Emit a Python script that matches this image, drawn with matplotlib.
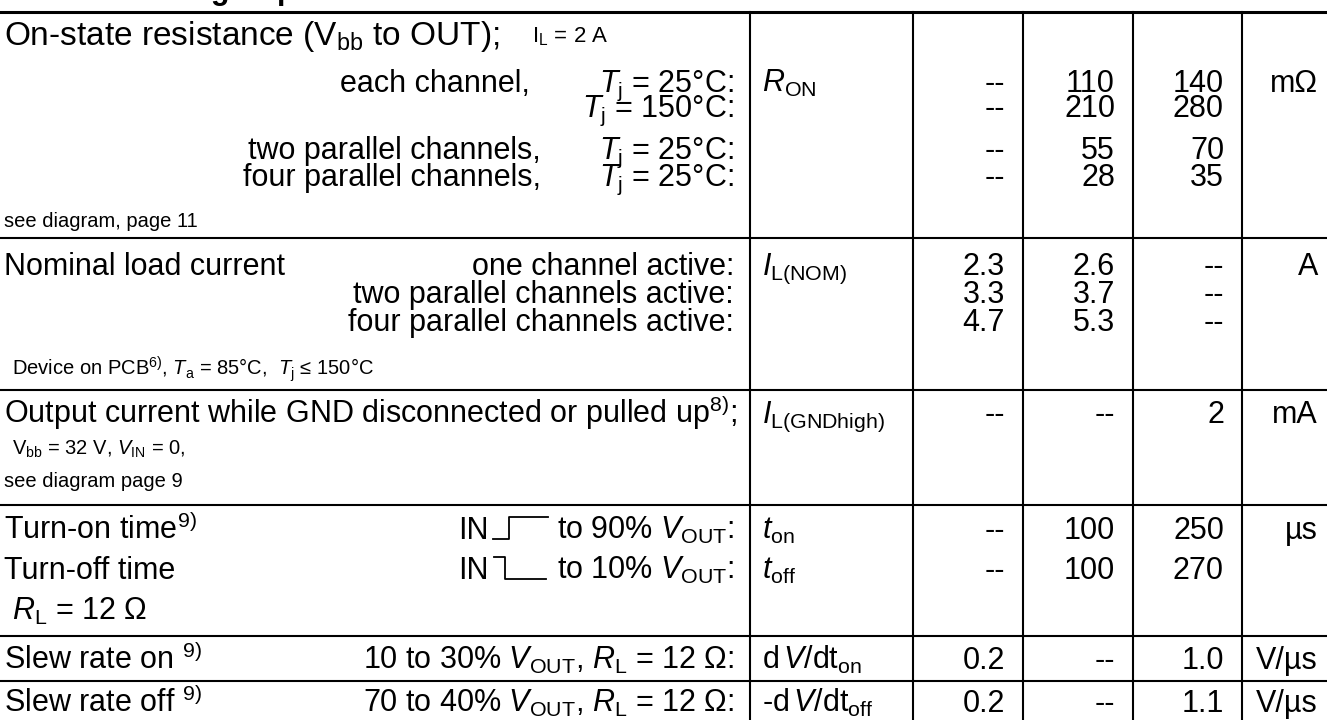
import matplotlib.pyplot as plt

plt.rcParams['font.family'] = ['Liberation Sans', 'DejaVu Sans']
plt.rcParams['mathtext.fontset'] = 'custom'
plt.rcParams['mathtext.rm'] = 'Liberation Sans'
plt.rcParams['mathtext.it'] = 'Liberation Sans:italic'
plt.rcParams['mathtext.bf'] = 'Liberation Sans:bold'

# table data, one entry per symbol row
symbols = [r'$R_{\mathrm{ON}}$', r'$I_{\mathrm{L(NOM)}}$', r'$I_{\mathrm{L(GNDhigh)}}$',
           r'$t_{\mathrm{on}}$', r'$t_{\mathrm{off}}$',
           r'd$\,V$/dt$_{\mathrm{on}}$', r'-d$\,V$/dt$_{\mathrm{off}}$']
min_vals = [['--', '--', '--', '--'], ['2.3', '3.3', '4.7'], ['--'], ['--'], ['--'], ['0.2'], ['0.2']]
typ_vals = [['110', '210', '55', '28'], ['2.6', '3.7', '5.3'], ['--'], ['100'], ['100'], ['--'], ['--']]
max_vals = [['140', '280', '70', '35'], ['--', '--', '--'], ['2'], ['250'], ['270'], ['1.0'], ['1.1']]
units = ['mΩ', 'A', 'mA', 'µs', '', 'V/µs', 'V/µs']

# layout (pixels)
W, H = 1327, 720
BIG, SMALL = 22, 14.5
col_x = [750, 913, 1023, 1133, 1242]
hlines = [238, 390, 505, 636, 681]
top_line = 12
value_y = [[81, 106, 148, 175], [264, 292, 320], [412], [528], [568], [658], [701]]

left_texts = [
    ('On-state resistance (V$_{\\mathrm{bb}}$ to OUT); ', 4, 33, 'left', 24),
    ('I$_{\\mathrm{L}}$ = 2 A', 532, 34, 'left', 16),
    ('each channel,', 530, 81, 'right', BIG),
    ('$T_{\\mathrm{j}}$ = 25°C:', 734, 81, 'right', BIG),
    ('$T_{\\mathrm{j}}$ = 150°C:', 734, 106, 'right', BIG),
    ('two parallel channels,', 541, 148, 'right', BIG),
    ('$T_{\\mathrm{j}}$ = 25°C:', 734, 148, 'right', BIG),
    ('four parallel channels,', 541, 175, 'right', BIG),
    ('$T_{\\mathrm{j}}$ = 25°C:', 734, 175, 'right', BIG),
    ('see diagram, page 11', 4, 220, 'left', SMALL),
    ('Nominal load current', 4, 264, 'left', BIG),
    ('one channel active:', 734, 264, 'right', BIG),
    ('two parallel channels active:', 734, 292, 'right', BIG),
    ('four parallel channels active:', 734, 320, 'right', BIG),
    ('Device on PCB$^{6)}$, $T_{\\mathrm{a}}$ = 85°C,  $T_{\\mathrm{j}}$ ≤ 150°C', 12, 368, 'left', SMALL),
    ('Output current while GND disconnected or pulled up$^{8)}$;', 4, 412, 'left', BIG),
    ('V$_{\\mathrm{bb}}$ = 32 V, $V_{\\mathrm{IN}}$ = 0,', 12, 447, 'left', SMALL),
    ('see diagram page 9', 4, 480, 'left', SMALL),
    ('Turn-on time$^{9)}$', 4, 528, 'left', BIG),
    ('IN', 458, 528, 'left', BIG),
    ('to 90% $V_{\\mathrm{OUT}}$:', 734, 528, 'right', BIG),
    ('Turn-off time', 4, 568, 'left', BIG),
    ('IN', 458, 568, 'left', BIG),
    ('to 10% $V_{\\mathrm{OUT}}$:', 734, 568, 'right', BIG),
    ('$R_{\\mathrm{L}}$ = 12 Ω', 12, 609, 'left', BIG),
    ('Slew rate on $^{9)}$', 4, 658, 'left', BIG),
    ('10 to 30% $V_{\\mathrm{OUT}}$, $R_{\\mathrm{L}}$ = 12 Ω:', 734, 658, 'right', BIG),
    ('Slew rate off $^{9)}$', 4, 701, 'left', BIG),
    ('70 to 40% $V_{\\mathrm{OUT}}$, $R_{\\mathrm{L}}$ = 12 Ω:', 734, 701, 'right', BIG),
]


def off(size):
    # half the cap height in pixels, to put the text centre on y
    return 0.716 * size * 100 / 72 / 2


fig = plt.figure(figsize=(W / 100, H / 100), dpi=100)
ax = fig.add_axes([0, 0, 1, 1])
ax.set_xlim(0, W)
ax.set_ylim(H, 0)
ax.axis('off')

# cut-off section title above the table
ax.text(4, -1, 'Load Switching Capabilities and Characteristics', fontsize=22,
        fontweight='bold', va='baseline')

# grid
ax.axhline(top_line, color='black', lw=2.2)
for y in hlines:
    ax.axhline(y, color='black', lw=1.5)
for x in col_x:
    ax.plot([x, x], [top_line, H], color='black', lw=1.5)

for s, x, y, ha, size in left_texts:
    ax.text(x, y + off(size), s, ha=ha, va='baseline', fontsize=size)

# input step glyphs
cap = 0.716 * BIG * 100 / 72
b = 528 + off(BIG)
ax.plot([493, 509, 509, 548], [b, b, b - cap, b - cap], color='black', lw=1.3)
b = 568 + off(BIG)
ax.plot([494, 505, 505, 546], [b - cap, b - cap, b, b], color='black', lw=1.3)

pad = 18
for i, sym in enumerate(symbols):
    ys = value_y[i]
    ax.text(col_x[0] + 12, ys[0] + off(BIG), sym, ha='left', va='baseline', fontsize=BIG)
    for col, vals in zip(col_x[2:], [min_vals[i], typ_vals[i], max_vals[i]]):
        for v, y in zip(vals, ys):
            ax.text(col - pad, y + off(BIG), v, ha='right', va='baseline', fontsize=BIG)
    if units[i]:
        ax.text(W - 9, ys[0] + off(BIG), units[i], ha='right', va='baseline', fontsize=BIG)

fig.savefig('out.png', dpi=100)
